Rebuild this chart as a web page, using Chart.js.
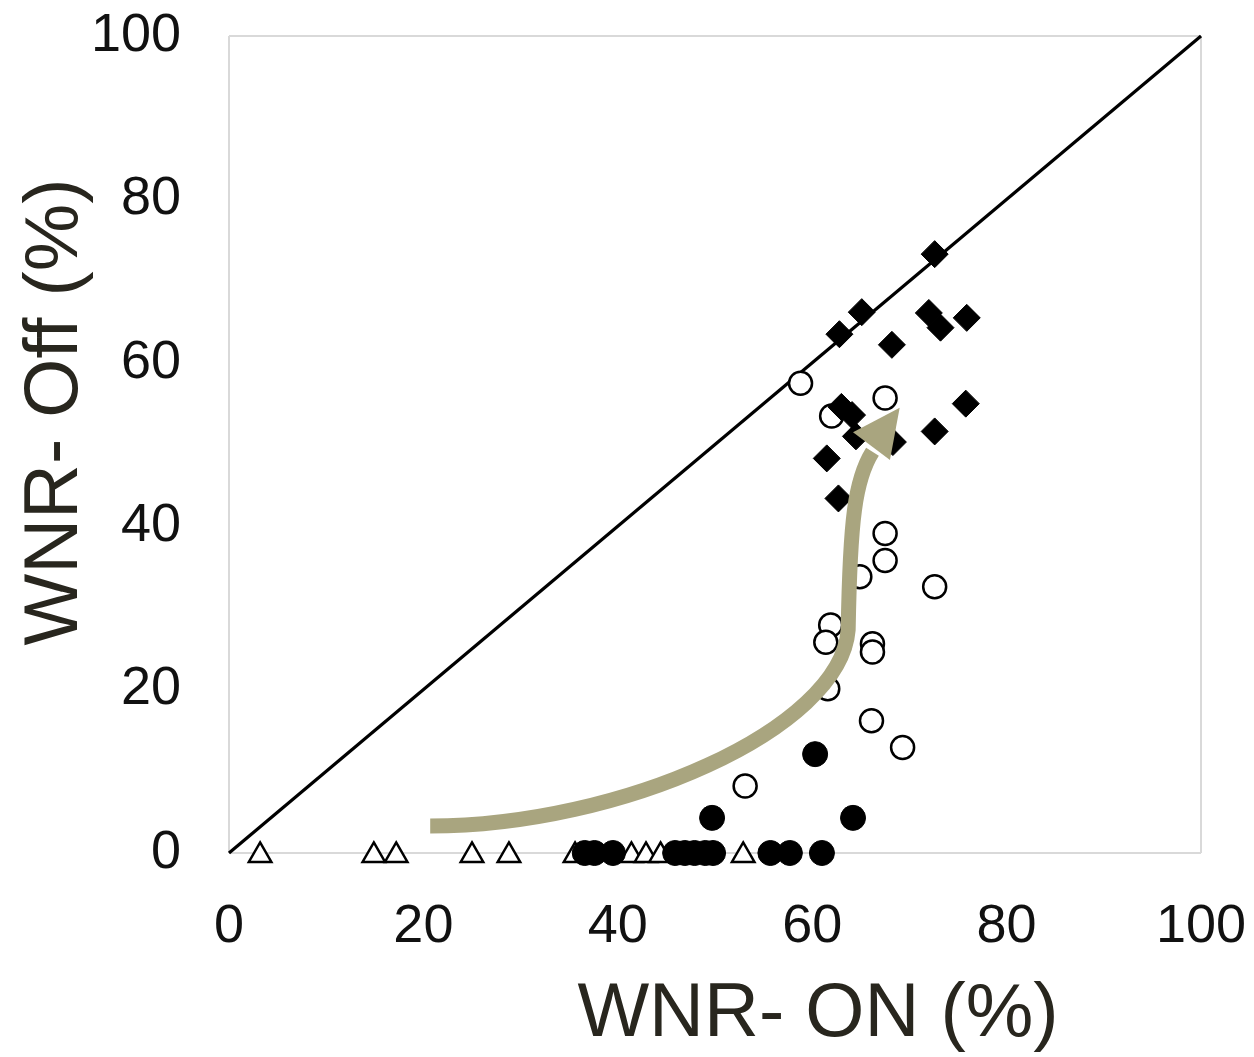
<!DOCTYPE html>
<html>
<head>
<meta charset="utf-8">
<script src="https://cdn.jsdelivr.net/npm/chart.js@4/dist/chart.umd.min.js"></script>
<style>
html,body{margin:0;padding:0;background:#fff;}
#wrap{width:1254px;height:1057px;}
</style>
</head>
<body>
<div id="wrap"><canvas id="c" width="1254" height="1057"></canvas></div>
<script>
// ---- data ----
const xTitle = "WNR- ON (%)";
const yTitle = "WNR- Off (%)";
const tickValues = [0, 20, 40, 60, 80, 100];

const diamondX = [72.6, 65.1, 62.8, 72.0, 73.2, 75.9, 68.2, 63.0, 64.1, 75.8, 72.6, 64.5, 68.3, 61.5, 62.7];
const diamondY = [73.3, 66.2, 63.5, 66.1, 64.3, 65.5, 62.2, 54.6, 53.6, 55.0, 51.6, 51.0, 50.3, 48.3, 43.4];

const openCircleX = [58.8, 62.0, 67.5, 67.5, 67.5, 64.9, 72.6, 61.9, 61.4, 66.2, 66.2, 61.6, 66.1, 69.3, 53.1];
const openCircleY = [57.5, 53.5, 55.7, 39.1, 35.8, 33.8, 32.6, 27.9, 25.8, 25.6, 24.6, 20.1, 16.2, 12.9, 8.2];

const filledCircleX = [60.3, 49.7, 64.2, 36.6, 37.6, 39.5, 45.9, 46.9, 47.9, 49.0, 49.8, 55.7, 57.7, 61.0];
const filledCircleY = [12.1, 4.3, 4.3, 0, 0, 0, 0, 0, 0, 0, 0, 0, 0, 0];

const triangleX = [3.2, 14.9, 17.2, 25.0, 28.8, 35.6, 41.4, 42.9, 44.4, 52.9];
const triangleY = [-0.3, -0.3, -0.3, -0.3, -0.3, -0.3, -0.3, -0.3, -0.3, -0.3];

const diagonalX = [0, 100];
const diagonalY = [0, 100];

// arrow path (data units): cubic segments + head
const arrowShaftX = [20.7, 40.2, 62.9, 63.7, 63.9, 64.4, 66.2];
const arrowShaftY = [3.3, 3.3, 15.1, 27.3, 40.8, 45.7, 49.1];
const arrowHeadX = [69.0, 64.2, 68.0];
const arrowHeadY = [54.5, 51.5, 48.1];

const pts = (xs, ys) => xs.map((x, i) => ({x: x, y: ys[i]}));

const FONT = "'Liberation Sans', Arial, sans-serif";
const INK = '#111111';
const TITLE_INK = '#28261e';
const ARROW = '#a9a57f';
const FRAME = '#d9d9d9';

const arrowPlugin = {
  id: 'arrow',
  afterDatasetsDraw(chart) {
    const {ctx, scales: {x, y}} = chart;
    const P = (i) => [x.getPixelForValue(arrowShaftX[i]), y.getPixelForValue(arrowShaftY[i])];
    ctx.save();
    ctx.strokeStyle = ARROW;
    ctx.lineWidth = 15;
    ctx.lineCap = 'butt';
    ctx.lineJoin = 'round';
    ctx.beginPath();
    let p = P(0); ctx.moveTo(p[0], p[1]);
    for (let i = 1; i + 2 < arrowShaftX.length; i += 3) {
      const a = P(i), b = P(i + 1), c = P(i + 2);
      ctx.bezierCurveTo(a[0], a[1], b[0], b[1], c[0], c[1]);
    }
    ctx.stroke();
    ctx.fillStyle = ARROW;
    ctx.beginPath();
    for (let i = 0; i < arrowHeadX.length; i++) {
      const hx = x.getPixelForValue(arrowHeadX[i]), hy = y.getPixelForValue(arrowHeadY[i]);
      if (i === 0) ctx.moveTo(hx, hy); else ctx.lineTo(hx, hy);
    }
    ctx.closePath();
    ctx.fill();
    ctx.restore();
  }
};

const titlePlugin = {
  id: 'axisTitles',
  afterDraw(chart) {
    const {ctx} = chart;
    ctx.save();
    ctx.fillStyle = TITLE_INK;
    ctx.font = "76px " + FONT;
    ctx.textAlign = 'center';
    ctx.textBaseline = 'middle';
    ctx.fillText(xTitle, 818, 1015);
    ctx.translate(56, 412);
    ctx.rotate(-Math.PI / 2);
    ctx.fillText(yTitle, 0, 0);
    ctx.restore();
  }
};

const frameGrid = {
  drawTicks: false,
  lineWidth: 2,
  color: (c) => (c.tick && (c.tick.value === 0 || c.tick.value === 100)) ? FRAME : 'rgba(0,0,0,0)'
};

const zeroPad = (s) => { s.paddingTop = 0; s.paddingBottom = 0; s.paddingLeft = 0; s.paddingRight = 0; };

new Chart(document.getElementById('c'), {
  type: 'scatter',
  data: {
    datasets: [
      {
        label: 'diamond', data: pts(diamondX, diamondY),
        pointStyle: 'rectRot', pointRadius: 13.5, backgroundColor: '#000', borderColor: '#000', borderWidth: 1, clip: false
      },
      {
        label: 'open circle', data: pts(openCircleX, openCircleY),
        pointStyle: 'circle', pointRadius: 11.5, backgroundColor: '#fff', borderColor: '#000', borderWidth: 2.5, clip: false
      },
      {
        label: 'filled circle', data: pts(filledCircleX, filledCircleY),
        pointStyle: 'circle', pointRadius: 12.5, backgroundColor: '#000', borderColor: '#000', borderWidth: 1, clip: false
      },
      {
        label: 'triangle', data: pts(triangleX, triangleY),
        pointStyle: 'triangle', pointRadius: 13, backgroundColor: '#fff', borderColor: '#000', borderWidth: 2.5, clip: false
      },
      {
        label: 'diagonal', type: 'line', data: pts(diagonalX, diagonalY),
        borderColor: '#000', borderWidth: 3.2, pointRadius: 0, fill: false, tension: 0, clip: false
      }
    ]
  },
  options: {
    responsive: false,
    animation: false,
    events: [],
    layout: {padding: {top: 36, right: 53, left: 0, bottom: 0}},
    plugins: {legend: {display: false}, tooltip: {enabled: false}},
    scales: {
      x: {
        type: 'linear', min: 0, max: 100,
        afterBuildTicks: (s) => { s.ticks = tickValues.map(v => ({value: v})); },
        afterFit: (s) => { s.height = 204; zeroPad(s); },
        ticks: {color: INK, font: {family: FONT, size: 54}, padding: 42, maxRotation: 0},
        grid: frameGrid,
        border: {display: false}
      },
      y: {
        type: 'linear', min: 0, max: 100,
        afterBuildTicks: (s) => { s.ticks = tickValues.map(v => ({value: v})); },
        afterFit: (s) => { s.width = 229; zeroPad(s); },
        ticks: {color: INK, font: {family: FONT, size: 54}, padding: 48},
        grid: frameGrid,
        border: {display: false}
      }
    }
  },
  plugins: [arrowPlugin, titlePlugin]
});
</script>
</body>
</html>
